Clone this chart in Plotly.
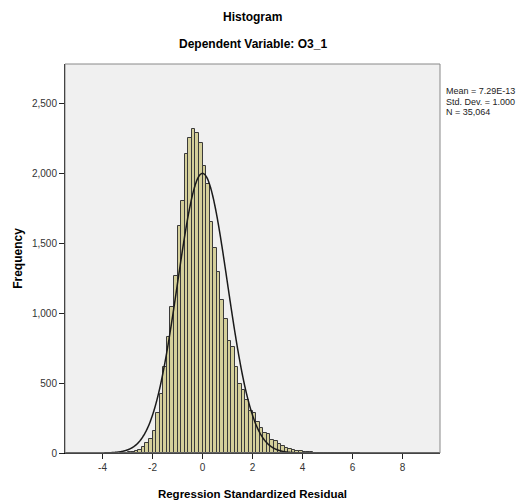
import math
import plotly.graph_objects as go

# ---- data ----
bin_start = -2 - 9 / 7.0          # left edge of first bin
bin_width = 1 / 7.0
counts = [1, 2, 4, 7, 13, 24, 45, 68, 98,
          155, 286, 424, 614, 829, 1040, 1262, 1624, 1802, 2138, 2250, 2314, 2290, 2214,
          2052, 1921, 1654, 1464, 1290, 1090, 957, 800, 755, 614, 490, 452, 378, 300,
          286, 220, 181, 140, 138, 92, 83, 66, 47, 36, 29, 19, 11, 11, 9,
          5, 4, 3, 2, 2, 1, 1, 1, 0, 1, 0, 1, 0, 0, 1]
mean_val = 0.0
sd_val = 1.0
n_val = 35064
stats_lines = ["Mean = 7.29E-13", "Std. Dev. = 1.000", "N = 35,064"]
x_ticks = [-4, -2, 0, 2, 4, 6, 8]
x_tick_labels = ["-4", "-2", "0", "2", "4", "6", "8"]
y_ticks = [0, 500, 1000, 1500, 2000, 2500]
y_tick_labels = ["0", "500", "1,000", "1,500", "2,000", "2,500"]

centers = [bin_start + (i + 0.5) * bin_width for i in range(len(counts))]

# fitted normal curve (mean, sd, N)
cx = [-5.5 + i * 0.02 for i in range(int(15 / 0.02) + 1)]
cy = [n_val * bin_width / (sd_val * math.sqrt(2 * math.pi)) *
      math.exp(-0.5 * ((v - mean_val) / sd_val) ** 2) for v in cx]

FONT = "Arial, Liberation Sans, sans-serif"

fig = go.Figure()
fig.add_trace(go.Bar(x=centers, y=counts, width=bin_width,
                     marker=dict(color="#D4CF9A", line=dict(color="#3A3A3A", width=1)),
                     hoverinfo="x+y", showlegend=False))
fig.add_trace(go.Scatter(x=cx, y=cy, mode="lines",
                         line=dict(color="#1A1A1A", width=1.5, shape="spline"),
                         showlegend=False, hoverinfo="skip"))

fig.update_layout(
    width=517, height=493,
    margin=dict(l=57, r=85, t=56, b=48),
    paper_bgcolor="white",
    plot_bgcolor="#F0F0F0",
    font=dict(family=FONT, size=10, color="#333333"),
    bargap=0,
    xaxis=dict(range=[-5.5, 9.5], tickvals=x_ticks, ticktext=x_tick_labels,
               ticks="outside", ticklen=5, automargin=False,
               tickcolor="#222", showgrid=False, zeroline=False,
               showline=True, linecolor="#000", linewidth=1, mirror=False,
               tickfont=dict(size=10, color="#333"),
               title=dict(text="<b>Regression Standardized Residual</b>",
                          font=dict(size=11.5, color="#000"), standoff=17)),
    yaxis=dict(range=[0, 2780], tickvals=y_ticks, ticktext=y_tick_labels,
               ticks="outside", automargin=False,
               ticklen=5, tickcolor="#222", showgrid=False, zeroline=False,
               showline=True, linecolor="#000", linewidth=1,
               tickfont=dict(size=10, color="#333"),
               title=dict(text="<b>Frequency</b>", font=dict(size=12, color="#000"),
                          standoff=6)),
    shapes=[dict(type="rect", xref="paper", yref="paper", x0=0, x1=1, y0=0, y1=1,
                 line=dict(color="#888888", width=1), fillcolor="rgba(0,0,0,0)",
                 layer="above")],
    annotations=[
        dict(text="<b>Histogram</b>", xref="paper", yref="paper", x=0.5, y=1,
             yshift=47, showarrow=False, font=dict(size=12, color="#000"),
             xanchor="center", yanchor="middle"),
        dict(text="<b>Dependent Variable: O3_1</b>", xref="paper", yref="paper",
             x=0.5, y=1, yshift=20, showarrow=False, font=dict(size=12, color="#000"),
             xanchor="center", yanchor="middle"),
    ] + [
        dict(text=t, xref="paper", yref="paper", x=1, xshift=4, y=1, yshift=-27 - 10.5 * i,
             showarrow=False, xanchor="left", yanchor="middle",
             font=dict(size=9, color="#222"))
        for i, t in enumerate(stats_lines)
    ],
)

fig.write_html("out.html")
